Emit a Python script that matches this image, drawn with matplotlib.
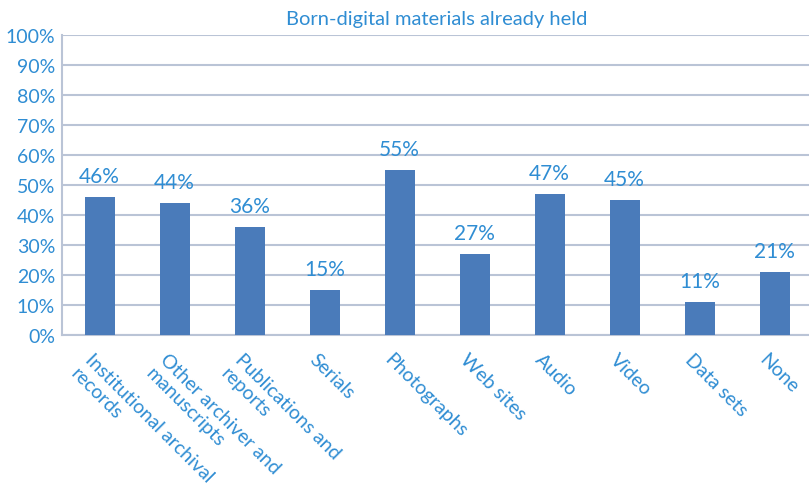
import matplotlib.pyplot as plt
from matplotlib.ticker import PercentFormatter
from matplotlib.transforms import ScaledTranslation

categories = ['Institutional archival\nrecords', 'Other archiver and\nmanuscripts',
              'Publications and\nreports', 'Serials', 'Photographs', 'Web sites',
              'Audio', 'Video', 'Data sets', 'None']
shares = [46, 44, 36, 15, 55, 27, 47, 45, 11, 21]

text_blue = '#2F8DD3'
bar_blue = '#4A7BBA'
grid_col = '#BAC4D6'

plt.rcParams['font.family'] = ['Lato', 'DejaVu Sans']

fig = plt.figure(figsize=(8.09, 4.85), dpi=100)
# axes run slightly past the right edge of the figure
ax = fig.add_axes([62 / 809, 1 - 336 / 485, 750 / 809, 300 / 485])

x = range(len(categories))
ax.bar(x, shares, width=0.4, color=bar_blue, zorder=3)
for i, v in zip(x, shares):
    ax.text(i, v + 3.5, f'{v}%', ha='center', va='bottom', color=text_blue, fontsize=15)

ax.set_xlim(-0.5, len(categories) - 0.5)
ax.set_ylim(0, 100)
ax.set_yticks(range(0, 101, 10))
ax.yaxis.set_major_formatter(PercentFormatter(decimals=0))
ax.grid(axis='y', color=grid_col, linewidth=1.5, zorder=0)

ax.set_xticks(list(x))
ax.set_xticklabels(categories, rotation=-45, ha='left', va='top',
                   rotation_mode='anchor', color=text_blue, fontsize=14,
                   linespacing=1.15)
ax.tick_params(axis='x', length=0, pad=11)
ax.tick_params(axis='y', length=0, pad=5, labelcolor=text_blue, labelsize=14)
# nudge the slanted labels a little to the left of each bar
shift = ScaledTranslation(-6 / 100, 0, fig.dpi_scale_trans)
for lbl in ax.get_xticklabels():
    lbl.set_transform(lbl.get_transform() + shift)

for side in ['top', 'right']:
    ax.spines[side].set_visible(False)
for side in ['left', 'bottom']:
    ax.spines[side].set_color(grid_col)
    ax.spines[side].set_linewidth(1.5)

ax.set_title('Born-digital materials already held', color=text_blue, fontsize=14.5, pad=8)

fig.savefig('out.png', dpi=100)
